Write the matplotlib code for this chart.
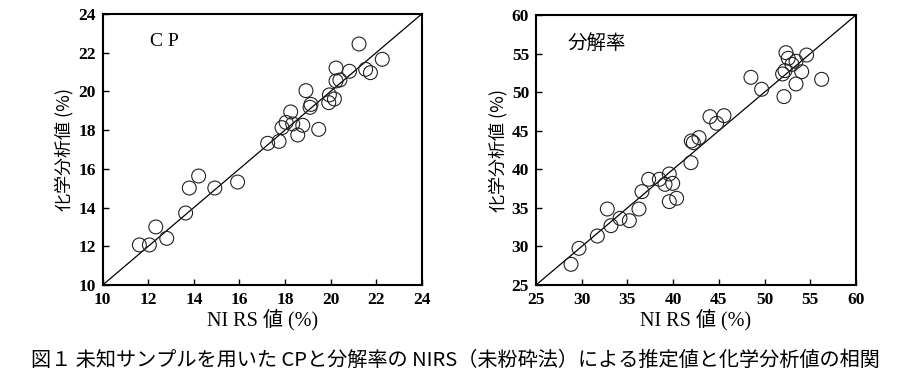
import matplotlib
matplotlib.use("Agg")
import matplotlib.pyplot as plt

# ---- data ----
cp_nirs = [11.61, 12.05, 12.33, 12.81, 13.64, 13.80, 14.21, 14.92, 15.92, 17.24,
           17.74, 17.87, 18.05, 18.25, 18.34, 18.56, 18.78, 18.92, 19.10, 19.14,
           19.48, 19.92, 19.95, 20.17, 20.24, 20.24, 20.41, 20.83, 21.25, 21.54,
           21.75, 22.27]
cp_chem = [12.07, 12.07, 13.00, 12.41, 13.72, 15.01, 15.63, 15.01, 15.32, 17.32,
           17.42, 18.13, 18.40, 18.94, 18.32, 17.75, 18.25, 20.04, 19.18, 19.33,
           18.04, 19.42, 19.82, 19.61, 21.21, 20.54, 20.59, 21.04, 22.45, 21.14,
           20.97, 21.66]

dr_nirs = [28.83, 29.70, 31.71, 32.80, 33.20, 34.19, 35.21, 36.26, 36.59, 37.32,
           38.49, 39.11, 39.58, 39.58, 39.95, 40.38, 41.95, 41.99, 42.21, 42.83,
           44.03, 44.76, 45.56, 48.51, 49.68, 52.12, 51.97, 52.23, 52.34, 52.59,
           53.00, 53.44, 53.44, 54.06, 54.60, 56.24]
dr_chem = [27.68, 29.75, 31.35, 34.85, 32.69, 33.64, 33.34, 34.85, 37.10, 38.70,
           38.70, 38.05, 39.39, 35.81, 38.18, 36.24, 40.86, 43.67, 43.45, 44.10,
           46.82, 45.96, 46.95, 51.92, 50.37, 49.42, 52.36, 52.79, 55.12, 54.39,
           53.60, 54.00, 51.06, 52.65, 54.81, 51.66]

cp_ticks = [10, 12, 14, 16, 18, 20, 22, 24]
dr_ticks = [25, 30, 35, 40, 45, 50, 55, 60]

cp_title = "C P"
dr_title = "分解率"
xlabel = "NI RS 値 (%)"
ylabel = "化学分析値 (%)"
caption = "図１ 未知サンプルを用いた CPと分解率の NIRS（未粉砕法）による推定値と化学分析値の相関"

serif = ["Liberation Serif", "Noto Sans CJK JP"]
cjk = ["Noto Sans CJK JP", "DejaVu Sans"]

fig = plt.figure(figsize=(8.99, 3.77), dpi=100)
W, H = 899, 377

def make_ax(x0, x1, y0, y1):
    return fig.add_axes([x0 / W, 1 - y1 / H, (x1 - x0) / W, (y1 - y0) / H])

ax1 = make_ax(102.7, 421.7, 14, 285)
ax2 = make_ax(536, 856, 15, 285)

for ax, xs, ys, ticks, title, tpos in [
    (ax1, cp_nirs, cp_chem, cp_ticks, cp_title, (164, 42)),
    (ax2, dr_nirs, dr_chem, dr_ticks, dr_title, (597, 44)),
]:
    lo, hi = ticks[0], ticks[-1]
    ax.plot([lo, hi], [lo, hi], color="black", lw=0.9, zorder=1)
    ax.scatter(xs, ys, s=100, facecolors="none", edgecolors="#222222",
               linewidths=0.8, zorder=2)
    ax.set_xlim(lo, hi)
    ax.set_ylim(lo, hi)
    ax.set_xticks(ticks)
    ax.set_yticks(ticks)
    ax.tick_params(direction="in", length=4, width=1.0, top=False, right=False,
                   labelsize=12.5, pad=5)
    for lab in ax.get_xticklabels() + ax.get_yticklabels():
        lab.set_fontfamily("Liberation Serif")
        lab.set_fontweight("bold")
    for sp in ax.spines.values():
        sp.set_linewidth(1.5)
    ax.set_xlabel(xlabel, family=serif, fontsize=14.5, labelpad=1)
    ax.set_ylabel(ylabel, family=cjk, fontsize=13, labelpad=3)
    fig.text(tpos[0] / W, 1 - tpos[1] / H, title, family=serif, fontsize=14,
             ha="center", va="center")

fig.text(455 / W, 1 - 360 / H, caption, family=cjk, fontsize=14.5,
         ha="center", va="center")

fig.savefig("out.png", dpi=100)
